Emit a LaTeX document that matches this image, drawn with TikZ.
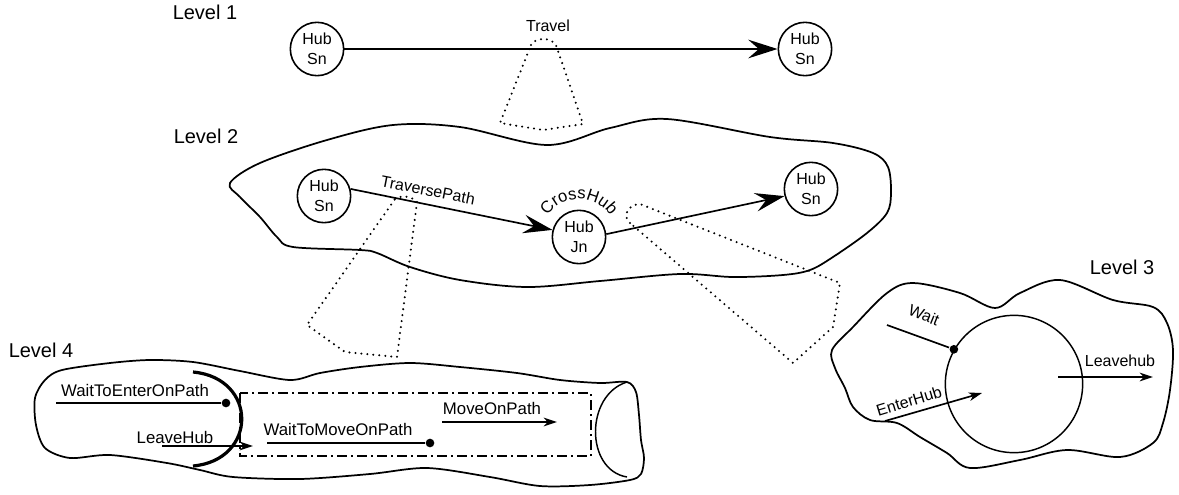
\documentclass[tikz,border=0pt]{standalone}
\usepackage{fontspec}
\setmainfont{Liberation Sans}
\usetikzlibrary{arrows.meta,decorations.text}
\begin{document}
\begin{tikzpicture}[x=0.75pt,y=-0.75pt,
  line width=1.25pt,
  hub/.style={circle,draw,line width=1.2pt,minimum size=40pt,inner sep=0pt,align=center,font=\fontsize{12}{15}\selectfont},
  lvl/.style={font=\fontsize{15}{18}\selectfont,inner sep=0pt},
  lbl/.style={font=\fontsize{12}{14}\selectfont,inner sep=0pt},
  lbf/.style={font=\fontsize{12.6}{15}\selectfont,inner sep=0pt},
  big/.style={-{Stealth[length=22pt,width=14pt,inset=8pt]}},
  small/.style={-{Stealth[length=10pt,width=6.5pt,inset=3pt]}},
  dots/.style={line width=1.7pt,dash pattern=on 0pt off 4.5pt,line cap=round},
  dashdot/.style={line width=1.3pt,dash pattern=on 7.5pt off 3pt on 1.5pt off 3pt},
  blob/.style={line width=1.3pt,line join=round},
  dotnode/.style={circle,fill,inner sep=0pt,minimum size=6.5pt},
]
\fill[white] (0,0) rectangle (1179,494);
\useasboundingbox (0,0) rectangle (1179,494);

% ---------- Level 1
\node[lvl] (lv1) at (205,12) {Level 1};
\node[hub] (c1) at (317,49) {Hub\\Sn};
\node[hub] (c2) at (805,49) {Hub\\Sn};
\draw[big] (c1) -- (c2);
\node[lbl] (trv) at (548,26) {Travel};
\draw[dots] (531,45) .. controls (535,37) and (551,37) .. (556,45) -- (583,124) -- (543,130) -- (500,123) -- cycle;

% ---------- Level 2
\node[lvl] (lv2) at (206,136) {Level 2};
\draw[blob] plot[smooth cycle, tension=0.55] coordinates {
 (230,183) (260,163) (327,140) (393,125) (460,127) (547,145) (610,128) (667,119)
 (770,137) (833,143) (873,153) (888,167) (891,193) (887,213) (867,233) (833,257)
 (810,270) (783,275) (733,277) (680,274) (600,281) (527,287) (460,280) (410,267)
 (377,253) (360,250) (293,247) (277,237) (260,217) (240,197)};
\node[hub] (l2a) at (324,196) {Hub\\Sn};
\node[hub] (l2j) at (579,237) {Hub\\Jn};
\node[hub] (l2b) at (811,189) {Hub\\Sn};
\draw[big] (l2a.15) -- (l2j.165);
\draw[big] (l2j.6) -- (l2b.195);
\node[lbl,rotate=-11] (tp) at (428,190) {TraversePath};
\path[decorate,decoration={text along path,text align=center,
  text={|\fontsize{12.5}{14}\selectfont|CrossHub}}]
  (544.6,220.9) .. controls (558.2,191.6) and (599.8,191.6) .. (613.4,220.9);
\draw[dots] (395,199) .. controls (401,195) and (412,196) .. (417,202) -- (397,357) -- (345,352) -- (307,325) -- cycle;
\draw[dots] (630,223) .. controls (623,217) and (626,205) .. (640,204) -- (840,283) -- (833,327) -- (793,363) -- cycle;

% ---------- Level 4
\node[lvl] (lv4) at (41,350) {Level 4};
\draw[blob] plot[smooth cycle, tension=0.5] coordinates {
 (35,398) (45,380) (62,370) (110,363) (150,360) (193,362) (240,371) (290,380)
 (320,373) (360,367) (410,363) (460,367) (517,373) (560,380) (600,383) (627,382)
 (636,392) (639,415) (641,440) (644,458) (641,474) (630,480) (590,485) (540,486)
 (490,477) (427,468) (370,474) (300,479) (233,477) (200,470) (167,463) (110,455)
 (70,458) (45,448) (36,425)};
\draw[line width=1.1pt] (627,382) .. controls (585,395) and (585,470) .. (627,477);
\draw[line width=2.4pt] (193,372) .. controls (258,378) and (258,460) .. (193,466);
\draw[dashdot] (240,393) rectangle (591,456);
\node[lbf] (t1) at (135,390) {WaitToEnterOnPath};
\coordinate (w1s) at (56,403);
\node[dotnode] (w1e) at (226,403) {};
\draw (w1s) -- (w1e);
\node[lbf] (t2) at (175,437) {LeaveHub};
\coordinate (lh1) at (162,446);
\coordinate (lh2) at (253,446);
\draw[small] (lh1) -- (lh2);
\node[lbf] (t3) at (338,429) {WaitToMoveOnPath};
\coordinate (wm1) at (267,443);
\node[dotnode] (wm2) at (430,443) {};
\draw (wm1) -- (wm2);
\node[lbf] (t4) at (492,408) {MoveOnPath};
\coordinate (mp1) at (442,422);
\coordinate (mp2) at (557,422);
\draw[small] (mp1) -- (mp2);

% ---------- Level 3
\node[lvl] (lv3) at (1122,267) {Level 3};
\draw[blob] plot[smooth cycle, tension=0.55] coordinates {
 (832,350) (853,327) (887,293) (913,283) (960,293) (995,308) (1020,293) (1060,280)
 (1113,300) (1153,307) (1167,323) (1173,350) (1170,390) (1163,423) (1153,443)
 (1120,457) (1067,450) (1020,460) (970,468) (947,453) (920,437) (897,423) (870,420)
 (853,407) (845,388) (835,368)};
\node[circle,draw,line width=1.1pt,minimum size=103pt,inner sep=0pt] (h3) at (1014,384) {};
\node[dotnode] (wd) at (h3.150) {};
\coordinate (ws) at (887,325);
\draw (ws) -- (wd);
\node[lbl,rotate=-22] (wt) at (924,315) {Wait};
\coordinate (es) at (885,421);
\coordinate (ee) at (982,393);
\draw[small] (es) -- (ee);
\node[lbl,rotate=17] (et) at (909,401) {EnterHub};
\coordinate (ls) at (1058,377);
\coordinate (le) at (1153,377);
\draw[small] (ls) -- (le);
\node[lbl] (lt) at (1120,361) {Leavehub};
\end{tikzpicture}
\end{document}
